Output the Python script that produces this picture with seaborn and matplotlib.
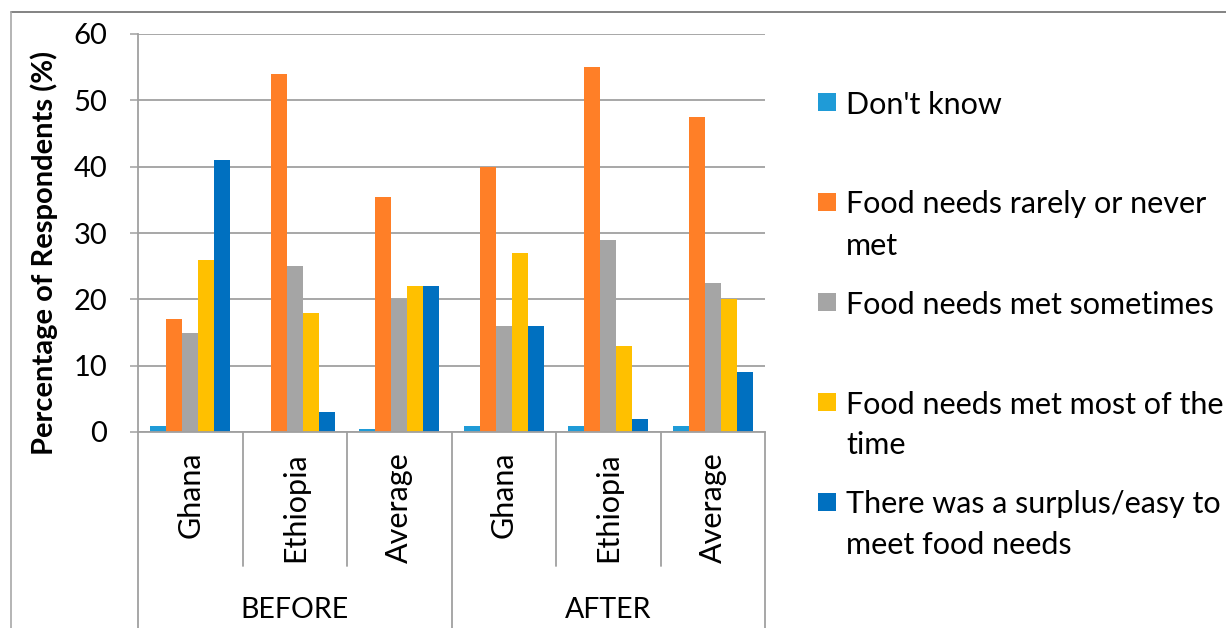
import numpy as np
import pandas as pd
import matplotlib
matplotlib.use("Agg")
import matplotlib.pyplot as plt
import matplotlib.transforms as mtransforms
from matplotlib.patches import Rectangle
import seaborn as sns

# ---- data -------------------------------------------------------------
periods = ["BEFORE", "BEFORE", "BEFORE", "AFTER", "AFTER", "AFTER"]
countries = ["Ghana", "Ethiopia", "Average", "Ghana", "Ethiopia", "Average"]
responses = [
    "Don't know",
    "Food needs rarely or never\nmet",
    "Food needs met sometimes",
    "Food needs met most of the\ntime",
    "There was a surplus/easy to\nmeet food needs",
]
dont_know = [0.9, 0.0, 0.45, 0.9, 0.9, 0.9]
rarely_never = [17, 54, 35.5, 40, 55, 47.5]
sometimes = [15, 25, 20, 16, 29, 22.5]
most_time = [26, 18, 22, 27, 13, 20]
surplus = [41, 3, 22, 16, 2, 9]
y_ticks = [0, 10, 20, 30, 40, 50, 60]
colors = ["#1F9BD7", "#FF7F27", "#A5A5A5", "#FFC000", "#0070C0"]

series = [dont_know, rarely_never, sometimes, most_time, surplus]
slots = [f"{p}|{c}" for p, c in zip(periods, countries)]
rows = []
for resp, vals in zip(responses, series):
    for slot, v in zip(slots, vals):
        rows.append({"slot": slot, "response": resp, "value": v})
df = pd.DataFrame(rows)

# ---- figure -----------------------------------------------------------
sns.set_theme(style="white")
plt.rcParams["font.family"] = ["Lato", "DejaVu Sans"]

W, H = 1226, 628
fig = plt.figure(figsize=(W / 100, H / 100), dpi=100)
fig.patch.set_facecolor("white")

ax_l, ax_r, ax_b, ax_t = 138, 765, 432, 34
ax = fig.add_axes([ax_l / W, 1 - ax_b / H, (ax_r - ax_l) / W, (ax_b - ax_t) / H])

sns.barplot(data=df, x="slot", y="value", hue="response", order=slots,
            hue_order=responses, palette=colors, width=0.77, saturation=1,
            errorbar=None, linewidth=0, legend=False, ax=ax)

ax.set_xlim(-0.5, len(slots) - 0.5)
ax.set_ylim(0, 60)
ax.set_yticks(y_ticks)
ax.set_yticklabels([str(t) for t in y_ticks], fontsize=21, color="black")
ax.yaxis.grid(True, color="#A0A0A0", linewidth=1.3)
ax.set_axisbelow(True)
ax.tick_params(axis="y", which="both", left=True, length=6, width=1.1,
               color="#A0A0A0", pad=16)
ax.tick_params(axis="x", bottom=False, labelbottom=False)
ax.set_xlabel("")
ax.set_ylabel("Percentage of Respondents (%)", fontsize=21,
              fontweight="bold", color="black")
ax.yaxis.set_label_coords(-0.127, 0.45)

for side in ["top", "right"]:
    ax.spines[side].set_visible(False)
ax.spines["left"].set_color("#A0A0A0")
ax.spines["left"].set_linewidth(1.3)
ax.spines["bottom"].set_color("#A0A0A0")
ax.spines["bottom"].set_linewidth(1.3)

# ---- two-level category axis -----------------------------------------
trans = mtransforms.blended_transform_factory(ax.transData, ax.transAxes)
axis_h = ax_b - ax_t
row1 = -(566 - ax_b) / axis_h
row2 = -(H + 5 - ax_b) / axis_h
line_kw = dict(color="#A0A0A0", linewidth=1.3, transform=trans, clip_on=False)

for i in range(len(slots) + 1):
    xb = i - 0.5
    group_edge = i == 0 or i == len(slots) or periods[i] != periods[i - 1]
    ax.plot([xb, xb], [0, row2 if group_edge else row1], **line_kw)

for i, c in enumerate(countries):
    ax.text(i, -(452 - ax_b) / axis_h, c, rotation=90, ha="center",
            va="top", fontsize=22, transform=trans, color="black")

for p in dict.fromkeys(periods):
    idx = [i for i, q in enumerate(periods) if q == p]
    ax.text(np.mean(idx), -(610 - ax_b) / axis_h, p, ha="center",
            va="center", fontsize=20.5, transform=trans, color="black")

# ---- legend -----------------------------------------------------------
first_line_y = [102, 202, 302, 402, 502]
line_step = 41
for resp, col, yy in zip(responses, colors, first_line_y):
    fig.add_artist(Rectangle((818 / W, 1 - (yy + 9) / H), 18 / W, 18 / H,
                             facecolor=col, edgecolor="none",
                             transform=fig.transFigure))
    for k, part in enumerate(resp.split("\n")):
        fig.text(846 / W, 1 - (yy + k * line_step) / H, part, ha="left",
                 va="center_baseline", fontsize=22, color="black")

# ---- outer frame ------------------------------------------------------
fig.add_artist(plt.Line2D([11 / W, 1.0], [1 - 12 / H, 1 - 12 / H],
                          color="#6E6E6E", linewidth=1.2,
                          transform=fig.transFigure))
fig.add_artist(plt.Line2D([11 / W, 11 / W], [1 - 12 / H, 0.0],
                          color="#A8A8A8", linewidth=1.2,
                          transform=fig.transFigure))

fig.savefig("out.png", dpi=100, facecolor="white")
